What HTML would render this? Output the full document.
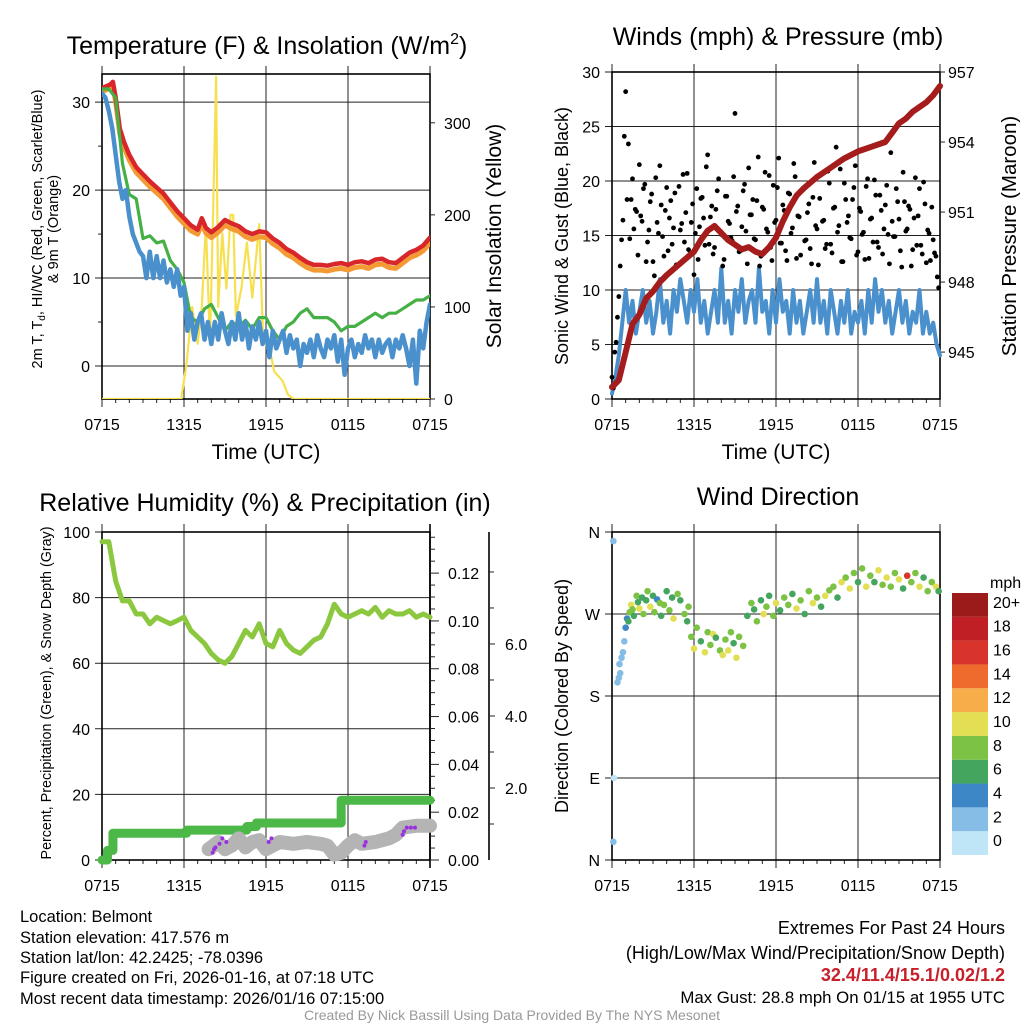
<!DOCTYPE html>
<html><head><meta charset="utf-8">
<style>
html,body{margin:0;padding:0;background:#fff;}
svg{display:block;font-family:"Liberation Sans",Arial,sans-serif;}
</style></head>
<body>
<svg id="fig" width="1024" height="1024" viewBox="0 0 1024 1024" xmlns="http://www.w3.org/2000/svg">
<rect x="0" y="0" width="1024" height="1024" fill="#fff"/>
<text x="267" y="54" font-size="25" text-anchor="middle">Temperature (F) &amp; Insolation (W/m<tspan font-size="16" dy="-10">2</tspan><tspan dy="10">)</tspan></text>
<text x="778" y="45" font-size="25" text-anchor="middle">Winds (mph) &amp; Pressure (mb)</text>
<text x="265" y="511" font-size="25" text-anchor="middle">Relative Humidity (%) &amp; Precipitation (in)</text>
<text x="778" y="505" font-size="25" text-anchor="middle">Wind Direction</text>
<text x="266" y="459" font-size="21" text-anchor="middle">Time (UTC)</text>
<text x="776" y="459" font-size="21" text-anchor="middle">Time (UTC)</text>
<text transform="translate(42,229) rotate(-90)" font-size="14.5" text-anchor="middle">2m T, T<tspan font-size="10" dy="3">d</tspan><tspan dy="-3">, HI/WC (Red, Green, Scarlet/Blue)</tspan></text>
<text transform="translate(58,229) rotate(-90)" font-size="14.5" text-anchor="middle">&amp; 9m T (Orange)</text>
<text transform="translate(501,236) rotate(-90)" font-size="21" text-anchor="middle">Solar Insolation (Yellow)</text>
<text transform="translate(568,236) rotate(-90)" font-size="18" text-anchor="middle">Sonic Wind &amp; Gust (Blue, Black)</text>
<text transform="translate(1016,236) rotate(-90)" font-size="20.5" text-anchor="middle">Station Pressure (Maroon)</text>
<text transform="translate(51,693) rotate(-90)" font-size="14.3" text-anchor="middle">Percent, Precipitation (Green), &amp; Snow Depth (Gray)</text>
<text transform="translate(568,696) rotate(-90)" font-size="18" text-anchor="middle">Direction (Colored By Speed)</text>
<g font-size="16.5">
<text x="20" y="922">Location: Belmont</text>
<text x="20" y="943">Station elevation: 417.576 m</text>
<text x="20" y="963">Station lat/lon: 42.2425; -78.0396</text>
<text x="20" y="983">Figure created on Fri, 2026-01-16, at 07:18 UTC</text>
<text x="20" y="1004">Most recent data timestamp: 2026/01/16 07:15:00</text>
</g>
<g font-size="18" text-anchor="end">
<text x="1005" y="934">Extremes For Past 24 Hours</text>
<text x="1005" y="959">(High/Low/Max Wind/Precipitation/Snow Depth)</text>
<text x="1005" y="981" fill="#c8202a" font-weight="bold">32.4/11.4/15.1/0.02/1.2</text>
<text x="1005" y="1003" font-size="16.8">Max Gust: 28.8 mph On 01/15 at 1955 UTC</text>
</g>
<text x="512" y="1020" font-size="14" fill="#999" text-anchor="middle">Created By Nick Bassill Using Data Provided By The NYS Mesonet</text>
<g id="layer"></g>
</svg>
<script>
// ---------- DATA ----------
const xTickLabels = ["0715","1315","1915","0115","0715"];
const xTickHours = [0,6,12,18,24];
// Panel 1
const tempTimes = [0,0.3,0.6,0.8,1.0,1.3,1.6,2.0,2.5,3,3.5,4,4.5,5,5.5,6,6.5,7,7.3,7.6,8,8.5,9,9.5,10,10.5,11,11.5,12,12.5,13,13.5,14,14.5,15,15.5,16,16.5,17,17.5,18,18.5,19,19.5,20,20.5,21,21.5,22,22.5,23,23.5,24];
const tempRed = [31.6,31.8,32.0,32.3,30.5,27,25.5,24,22.6,21.8,21,20.3,19.6,18.6,17.6,16.8,16.0,15.5,16.8,15.7,15.2,15.8,16.6,16.2,15.9,15.3,15.0,15.3,15.2,14.5,14.0,13.3,12.9,12.3,11.8,11.5,11.5,11.4,11.6,11.7,11.5,11.8,11.9,11.7,12.1,12.2,11.8,11.7,12.3,12.9,13.2,13.7,14.6];
const temp9m = [31.2,31.4,31.6,31.8,30.0,26.4,24.9,23.4,22.0,21.2,20.4,19.7,19.0,18.0,17.0,16.2,15.4,15.0,16.2,15.1,14.6,15.2,16.0,15.6,15.3,14.7,14.4,14.7,14.6,13.9,13.4,12.7,12.3,11.7,11.2,10.9,10.9,10.8,11.0,11.1,10.9,11.2,11.3,11.1,11.5,11.6,11.2,11.1,11.7,12.3,12.6,13.1,14.0];
const dewValues = [31.5,31.5,30.5,23,19.5,19,14.5,14.8,14,14.2,12,11,9.5,5.5,5,6.5,7,5.5,4,5,4.5,5.2,4.2,5.5,5.5,4,3,4.5,5,6,6.5,5.5,5.5,5.5,5,4,4.5,4.5,5,5.5,6,5.5,6,6,6.5,7,7.5,7.5,8];
const windChill = [31,30.5,29,27,24,21,19,20,17,15,14,13,12.5,10,13,10,12.5,10,12,9.5,11,9,11,8,9,
4,6,3,5, 6,3,5,2.5, 5,3,6,4, 2.5,5,3,6, 3,5,2,4.5, 3,5,2.5,4, 1,4,2,3, 4,1.5,3.5,2, 3,0,2.5,1.5, 3,1,3.5,2, 1,3,2,3.5, 0.5,3,-1,2, 3,1,2.5,1.5, 3.5,2,3,1, 3,1.5,2.5,3, 1,3,2,3.5, 2,0,3,-2, 4,2,5,7];
const solarTimes = [0,5.8,6.2,6.6,7.0,7.3,7.6,7.9,8.2,8.35,8.5,8.8,9.1,9.4,9.6,9.8,10.2,10.6,11.0,11.5,11.8,12.2,12.6,13.2,13.6,14,24];
const solarValues = [0,0,40,100,60,100,190,60,250,350,100,180,120,200,200,90,120,170,110,190,60,60,30,20,5,0,0];
// Panel 2
const windSpeed = [0.5,2,4,7,10, 7,9,6,8, 10,7,9,6, 8,11,7,9, 6,10,8,11, 9,7,10,8, 11,7,9,6, 8,10,7,12, 7,9,6,10, 8,11,7,9, 10,7,12,8, 9,6,10,7, 11,8,9,6, 10,7,9,6, 8,10,7,11, 7,9,6,10, 8,6,9,7, 10,6,8,7, 9,6,10,7, 11,8,10,7, 9,6,8,10, 7,9,6,8, 7,10,6,8, 6,7,5,4];
const gustA = [2,4.3,7.5,12.2,16.4,28.2,23.4,18.3,15.6,17.2,21.5,16.3,19.7,14.4,18.1,12.6,20.3,15.2,17.8,13.1,19.4,16.6,14.2,18.9,12.3,15.5,20.6,17.1,13.7,16.2,11.4,19.3,15.8,18.5,14.1,22.4,16.7,13.3,17.4,20.2,15.1,12.8,18.6,16.1,14.5,26.2,17.7,13.6,19.1,15.4,21.2,16.9,14.7,18.2,12.2,17.6,20.8,15.3,13.9,19.6,16.4,22.1,14.3,17.3,12.7,18.8,15.7,20.4,16.8,13.2,19.2,14.6,17.9,12.4,21.7,15.6,18.4,16.3,13.8,20.9,14.2,17.5,23.1,15.9,12.6,19.8,16.2,14.8,18.3,21.4,13.5,17.2,15.3,19.5,12.9,16.6,20.1,14.4,18.7,13.3,17.8,15.1,22.6,14.9,19.3,16.5,12.1,18.1,15.6,17.4,13.7,20.3,16.8,14.1,19.9,12.5,15.2,17.6,13.4,11.2];
const gustB = [1,5.2,9.4,14.6,24.1,18.3,14.7,20.2,17.4,13.2,16.8,19.3,12.6,15.5,18.8,11.3,16.2,21.4,14.9,17.3,13.6,18.2,15.7,12.3,19.5,16.1,14.4,20.7,13.3,17.9,15.2,12.8,18.4,16.6,21.3,14.2,17.7,13.9,19.1,15.4,12.2,18.6,16.3,14.8,20.4,17.2,13.5,15.8,19.7,12.4,16.9,18.3,14.6,22.2,13.1,17.4,15.6,20.5,12.7,16.2,19.4,14.3,17.8,13.6,18.9,15.2,21.6,12.9,16.7,19.2,14.5,17.1,13.8,18.5,15.9,12.3,20.6,16.4,14.2,19.8,13.4,17.6,15.3,21.1,12.6,18.3,16.8,14.7,19.4,13.2,17.5,15.1,12.8,20.2,16.5,14.4,18.7,13.9,17.3,15.6,19.6,12.4,16.3,14.9,18.1,13.6,20.8,15.4,17.7,12.2,16.6,14.1,19.3,13.3,17.9,15.5,12.7,14.6,13.1,10.2];
const presTimes = [0,0.5,1,1.5,2,2.5,3,3.5,4,5,6,6.5,7,7.5,8,8.5,9,9.5,10,10.5,11,11.5,12,12.5,13,13.5,14,15,16,17,18,19,20,20.5,21,21.5,22,22.5,23,23.5,24];
const presValues = [943.5,943.8,945,946.2,946.6,947.3,947.6,948.0,948.3,948.8,949.3,949.8,950.2,950.4,950.1,949.8,949.6,949.4,949.5,949.3,949.2,949.5,949.9,950.6,951.2,951.7,952.0,952.5,952.9,953.3,953.6,953.8,954.0,954.4,954.8,955.0,955.3,955.5,955.7,956.0,956.4];
// Panel 3
const rhValues = [97,97,85,79,79,75,75,72,74,73,72,73,74,70,68,66,63,61,60,62,66,70,68,72,66,65,70,66,64,63,65,67,68,72,78,75,74,75,76,75,77,74,76,75,75,76,74,75,74];
const precipTimes = [0,0.4,0.8,6.2,10.6,11.3,17.5];
const precipValues = [0,0.004,0.0112,0.0125,0.014,0.0155,0.025];
const snowTimes = [7.8,8.5,9,9.5,10,10.5,11,11.5,12,12.5,13,14,15,16,16.5,17,17.5,18,18.5,19,20,21,21.5,22,23,24];
const snowValues = [0.3,0.5,0.3,0.4,0.6,0.35,0.5,0.55,0.3,0.4,0.5,0.45,0.5,0.45,0.4,0.15,0.2,0.4,0.55,0.45,0.5,0.6,0.7,0.9,0.95,0.95];
const snowRawTimes = [8.1,8.2,8.3,8.6,8.8,9.1,12.2,12.4,19.2,19.3,22.0,22.1,22.3,22.6,22.9];
const snowRawValues = [0.2,0.3,0.35,0.45,0.6,0.5,0.5,0.6,0.4,0.5,0.7,0.8,0.9,0.9,0.9];
// Panel 4
const dirTimes = [0.1,0.15,0.1,0.4,0.5,0.6,0.55,0.7,0.8,0.9, 1.0,1.1,1.2,1.3,1.4,1.5,1.6,1.8,1.9,2.0, 2.2,2.3,2.5,2.6,2.8,3.0,3.1,3.3,3.5,3.6, 3.8,4.0,4.2,4.4,4.5,4.8,5.0,5.3,5.5,5.6, 5.8,6.0,6.2,6.5,6.8,7.0,7.2,7.4,7.6,7.9, 8.1,8.3,8.5,8.7,8.9,9.1,9.3,9.6,9.9,10.2, 10.4,10.6,10.9,11.1,11.3,11.5,11.8,12.0,12.3,12.6, 12.9,13.2,13.5,13.8,14.1,14.4,14.7,15.0,15.3,15.6, 15.9,16.2,16.5,16.8,17.1,17.4,17.7,18.0,18.3,18.6, 18.9,19.2,19.5,19.8,20.1,20.4,20.7,21.0,21.3,21.6, 21.9,22.2,22.5,22.8,23.1,23.4,23.7,23.9];
const dirValues = [350,90,20,195,200,205,215,222,228,240, 255,265,262,272,280,275,268,290,283,276, 288,270,285,295,278,290,272,286,282,268, 280,295,274,288,265,292,285,270,262,278, 245,232,255,240,228,250,236,248,244,230, 225,242,230,250,238,222,245,235,268,282, 275,262,285,270,278,290,268,282,274,288, 280,292,276,285,270,295,282,288,278,290, 296,300,288,305,310,298,315,305,320,300, 312,305,318,302,310,300,315,308,298,312, 305,315,300,310,295,305,300,295];
const dirSpeeds = [2,1,2,2,3,2,3,2,3,3, 4,5,6,9,11,8,7,9,6,10, 7,9,6,8,10,7,9,5,8,7, 9,6,8,7,10,8,6,9,7,8, 8,10,9,7,11,9,8,10,6,9, 10,8,11,9,7,10,8,9,7,8, 6,9,7,10,8,6,9,11,7,8, 9,7,10,8,6,9,11,8,7,10, 8,9,7,10,8,11,9,7,8,10, 9,7,10,8,11,9,8,10,7,16, 9,8,11,7,9,8,10,7];
const speedLabels = ["0","2","4","6","8","10","12","14","16","18","20+"];
const speedColors = ["#bfe6f7","#85bde6","#3e87c6","#44a55f","#7cc244","#e2df54","#f7ae4a","#ef6a2d","#d9342b","#c01f25","#9b1a1a"];

// ---------- HELPERS ----------
const NS = "http://www.w3.org/2000/svg";
const layer = document.getElementById('layer');
function mk(tag, attrs, parent){
  const e = document.createElementNS(NS, tag);
  for (const k in attrs) e.setAttribute(k, attrs[k]);
  (parent||layer).appendChild(e);
  return e;
}
function scaleX(p){ return t => p.x0 + t/24*(p.x1-p.x0); }
function scaleY(p, lo, hi){ return v => p.y1 - (v-lo)/(hi-lo)*(p.y1-p.y0); }
function pathD(xs, ys, fx, fy){
  return xs.map((t,i)=>(i?'L':'M')+fx(t).toFixed(1)+','+fy(ys[i]).toFixed(1)).join('');
}
function idx(n, step){ const a=[]; for(let i=0;i<n;i++) a.push(i*step); return a; }

const P1 = {x0:102,x1:430,y0:74,y1:399};
const P2 = {x0:612,x1:940,y0:72,y1:399};
const P3 = {x0:102,x1:430,y0:532,y1:860};
const P4 = {x0:612,x1:940,y0:532,y1:860};
const TICK_FS = 16;

function frame(p, name, yTicks, yLabels, fy, hGrid){
  const fx = scaleX(p);
  const g = mk('g',{});
  
  
  yTicks.forEach((v,i)=>{
    const y = fy(v);
    if (hGrid[i]) {
      const gl = mk('line',{x1:p.x0-7,y1:y,x2:p.x1,y2:y,stroke:'#222','stroke-width':1},g);
      
      
    } else {
      const tk = mk('line',{x1:p.x0-7,y1:y,x2:p.x0,y2:y,stroke:'#222','stroke-width':1},g);
      
      
    }
    const tl = mk('text',{x:p.x0-12,y:y+6,'font-size':TICK_FS,'text-anchor':'end'},g);
    tl.textContent = yLabels[i];
    
    
  });
  xTickHours.forEach((h,i)=>{
    const x = fx(h);
    const vl = mk('line',{x1:x,y1:p.y0-8,x2:x,y2:p.y1+8,stroke:'#222','stroke-width':1},g);
    
    
    const xl = mk('text',{x:x,y:p.y1+31,'font-size':TICK_FS,'text-anchor':'middle'},g);
    xl.textContent = xTickLabels[i];
    
    
  });
  for (let h=1; h<24; h++){
    if (h%6===0) continue;
    const mt = mk('line',{x1:fx(h),y1:p.y1,x2:fx(h),y2:p.y1+4,stroke:'#222','stroke-width':1},g);
    
    
  }
  const border = mk('rect',{x:p.x0,y:p.y0,width:p.x1-p.x0,height:p.y1-p.y0,fill:'none',stroke:'#000','stroke-width':1.6},g);
  
  
  return fx;
}
function rightAxis(p, name, ticks, labels, fy, xLine, tickLen, labelX){
  ticks.forEach((v,i)=>{
    const y = fy(v);
    const t = mk('line',{x1:xLine,y1:y,x2:xLine+tickLen,y2:y,stroke:'#222','stroke-width':1});
    
    
    const l = mk('text',{x:labelX,y:y+6,'font-size':TICK_FS});
    l.textContent = labels[i];
    
    
  });
}
function line(d, color, w, name, parent){
  const e = mk('path',{d:d,fill:'none',stroke:color,'stroke-width':w,'stroke-linejoin':'round','stroke-linecap':'round'},parent);
  
  
  return e;
}

// ---------- PANEL 1 ----------
(function(){
  const fy = scaleY(P1,-3.75,33.2);
  const fyR = scaleY(P1,0,353);
  const fx = frame(P1,'temp',[0,10,20,30],['0','10','20','30'],fy,[1,1,1,1]);
  [5,15,25].forEach(v=>{
    const mt = mk('line',{x1:P1.x0-4,y1:fy(v),x2:P1.x0,y2:fy(v),stroke:'#222'});
    
    
  });
  rightAxis(P1,'insolation-axis',[0,100,200,300],['0','100','200','300'],fyR,P1.x1,5,P1.x1+14);
  const clipR = mk('clipPath',{id:'c1'}); mk('rect',{x:P1.x0,y:P1.y0-10,width:P1.x1-P1.x0,height:P1.y1-P1.y0+10},clipR);
  const g = mk('g',{'clip-path':'url(#c1)'});
  
  
  line(pathD(solarTimes,solarValues,fx,fyR),'#f7e050',2.2,'solar-insolation-line',g);
  line(pathD(tempTimes,temp9m,fx,fy),'#f39a35',5,'9m-temperature-line',g);
  line(pathD(tempTimes,tempRed,fx,fy),'#d9262b',4.5,'2m-temperature-line',g);
  line(pathD(idx(dewValues.length,0.5),dewValues,fx,fy),'#45b045',3.2,'dewpoint-line',g);
  line(pathD(idx(windChill.length,0.25),windChill,fx,fy),'#4a90cc',4.5,'wind-chill-line',g);
})();

// ---------- PANEL 2 ----------
(function(){
  const fy = scaleY(P2,0,30);
  const fyR = scaleY(P2,942.99,957);
  const fx = frame(P2,'winds',[0,5,10,15,20,25,30],['0','5','10','15','20','25','30'],fy,[0,1,1,1,1,1,0]);
  rightAxis(P2,'pressure-axis',[945,948,951,954,957],['945','948','951','954','957'],fyR,P2.x1,5,P2.x1+8);
  const g = mk('g',{});
  
  
  line(pathD(idx(windSpeed.length,0.25),windSpeed,fx,fy),'#4a90cc',4,'sonic-wind-line',g);
  gustA.forEach((v,i)=>{
    const c = mk('circle',{cx:fx(i*0.2),cy:fy(v),r:2.4,fill:'#000'},g);
    
    
  });
  gustB.forEach((v,i)=>{
    const c = mk('circle',{cx:fx(i*0.2+0.1),cy:fy(v),r:2.4,fill:'#000'},g);
    
    
  });
  line(pathD(presTimes,presValues,fx,fyR),'#a51c1c',6,'station-pressure-line',g);
})();

// ---------- PANEL 3 ----------
(function(){
  const fy = scaleY(P3,0,100);
  const fyP = scaleY(P3,0,0.1372);
  const fyS = scaleY(P3,0,9.11);
  const fx = frame(P3,'humidity',[0,20,40,60,80,100],['0','20','40','60','80','100'],fy,[0,1,1,1,1,0]);
  const pl = mk('line',{x1:P3.x1,y1:P3.y0-8,x2:P3.x1,y2:P3.y1+8,stroke:'#000','stroke-width':1.6});
  
  
  const pT=[0,0.02,0.04,0.06,0.08,0.10,0.12];
  rightAxis(P3,'precip-axis',pT,['0.00','0.02','0.04','0.06','0.08','0.10','0.12'],fyP,P3.x1,9,P3.x1+18);
  for (let k=1;k<28;k++){
    if (k%4===0) continue;
    const mt = mk('line',{x1:P3.x1,y1:fyP(k*0.005),x2:P3.x1+5,y2:fyP(k*0.005),stroke:'#222'});
    
    
  }
  const sl = mk('line',{x1:489,y1:P3.y0,x2:489,y2:P3.y1,stroke:'#000','stroke-width':1.6});
  
  
  rightAxis(P3,'snow-axis',[2,4,6],['2.0','4.0','6.0'],fyS,489,6,505);
  [1,3,5,7,8].forEach(v=>{
    const mt = mk('line',{x1:489,y1:fyS(v),x2:494,y2:fyS(v),stroke:'#222'});
    
    
  });
  const g = mk('g',{});
  
  
  let d='';
  precipTimes.forEach((t,i)=>{
    if(i===0) d+='M'+fx(t)+','+fyP(precipValues[i]);
    else d+='L'+fx(t)+','+fyP(precipValues[i-1])+'L'+fx(t)+','+fyP(precipValues[i]);
  });
  d+='L'+fx(24)+','+fyP(precipValues[precipValues.length-1]);
  line(d,'#4cb848',9,'precipitation-line',g);
  line(pathD(snowTimes,snowValues,fx,fyS),'#b4b4b4',14,'snow-depth-line',g);
  snowRawTimes.forEach((t,i)=>{
    const c = mk('circle',{cx:fx(t),cy:fyS(snowRawValues[i]),r:2,fill:'#9b30e0'},g);
    
    
  });
  line(pathD(idx(rhValues.length,0.5),rhValues,fx,fy),'#8cc83f',5,'relative-humidity-line',g);
})();

// ---------- PANEL 4 ----------
(function(){
  const fy = scaleY(P4,0,360);
  const fx = frame(P4,'direction',[0,90,180,270,360],['N','E','S','W','N'],fy,[0,1,1,1,0]);
  const g = mk('g',{});
  
  
  dirTimes.forEach((t,i)=>{
    const b = Math.min(10, Math.floor(dirSpeeds[i]/2));
    const c = mk('circle',{cx:fx(t),cy:fy(dirValues[i]),r:3.3,fill:speedColors[b]},g);
    
    
  });
  const cb = mk('g',{});
  
  
  const ct = mk('text',{x:990,y:588,'font-size':16},cb);
  ct.textContent='mph';
  
  
  const bh = (855-593)/speedColors.length;
  speedColors.forEach((col,i)=>{
    const y = 855 - (i+1)*bh;
    const r = mk('rect',{x:952,y:y,width:36,height:bh,fill:col},cb);
    
    
    const l = mk('text',{x:993,y:y+bh/2+3,'font-size':16},cb);
    l.textContent = speedLabels[i];
    
    
  });
})();
</script>
</body></html>
